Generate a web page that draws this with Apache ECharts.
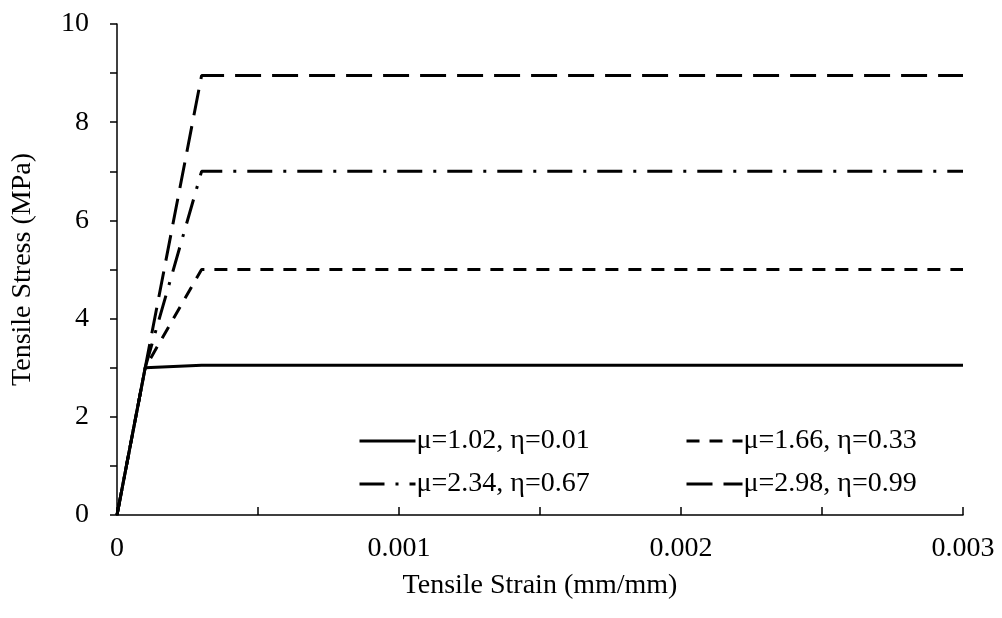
<!DOCTYPE html>
<html>
<head>
<meta charset="utf-8">
<script src="https://cdn.jsdelivr.net/npm/echarts@6/dist/echarts.min.js"></script>
<style>html,body{margin:0;padding:0;background:#fff}#c{width:1002px;height:618px}</style>
</head>
<body>
<div id="c"></div>
<script>
var strain = [0, 0.0001, 0.0003, 0.003];
var names = ['μ=1.02, η=0.01', 'μ=1.66, η=0.33', 'μ=2.34, η=0.67', 'μ=2.98, η=0.99'];
var stressA = [0, 3.0, 3.05, 3.05];
var stressB = [0, 3.0, 5.0, 5.0];
var stressC = [0, 3.0, 7.0, 7.0];
var stressD = [0, 3.0, 8.95, 8.95];
var xTicks = ['0', '0.001', '0.002', '0.003'];

function pts(ys){ return strain.map(function(x,i){ return [x, ys[i]]; }); }
var FONT = 'Liberation Serif';
var FS = 28;
var dashes = ['solid', [13, 10], [25, 11, 3, 11], [26, 11]];
var allY = [stressA, stressB, stressC, stressD];

var series = allY.map(function(ys, i){
  return {
    name: names[i], type: 'line', data: pts(ys), symbol: 'none', showSymbol: false,
    lineStyle: {color: '#000', width: 3, type: dashes[i], cap: 'butt'},
    itemStyle: {color: '#000'}, animation: false
  };
});

var legendPos = [[353, 422], [680, 422], [353, 465], [680, 465]];
var legends = names.map(function(n, i){
  return {
    data: [n], left: legendPos[i][0], top: legendPos[i][1],
    itemWidth: 56, itemHeight: 28, itemGap: 0,
    itemStyle: {opacity: 0},
    lineStyle: {width: 3, color: '#000', type: dashes[i]},
    textStyle: {fontFamily: FONT, fontSize: FS, color: '#000', padding: [0,0,0,-4]},
    selectedMode: false
  };
});

var chart = echarts.init(document.getElementById('c'), null, {renderer: 'canvas'});
chart.setOption({
  backgroundColor: '#fff',
  animation: false,
  grid: {left: 117, right: 39, top: 24, bottom: 103, containLabel: false, outerBoundsMode: 'none'},
  legend: legends,
  xAxis: {
    type: 'value', min: 0, max: 0.003, interval: 0.001,
    name: 'Tensile Strain (mm/mm)', nameLocation: 'middle', nameGap: 57,
    nameTextStyle: {fontFamily: FONT, fontSize: FS, color: '#000'},
    axisLine: {lineStyle: {color: '#000', width: 1.5}},
    axisTick: {inside: true, length: 8, lineStyle: {color: '#000', width: 1.5}},
    minorTick: {show: true, splitNumber: 2, length: 8, lineStyle: {color: '#000', width: 1.5}},
    splitLine: {show: false},
    axisLabel: {fontFamily: FONT, fontSize: FS, color: '#000', margin: 20,
      formatter: function(v){ return xTicks[Math.round(v / 0.001)]; }}
  },
  yAxis: {
    type: 'value', min: 0, max: 10, interval: 1,
    name: 'Tensile Stress (MPa)', nameLocation: 'middle', nameGap: 80,
    nameTextStyle: {fontFamily: FONT, fontSize: FS, color: '#000'},
    axisLine: {show: true, lineStyle: {color: '#000', width: 1.5}},
    axisTick: {show: true, inside: false, length: 7, lineStyle: {color: '#000', width: 1.5}},
    splitLine: {show: false},
    axisLabel: {fontFamily: FONT, fontSize: FS, color: '#000', margin: 28,
      formatter: function(v){ return (Math.round(v) % 2 === 0) ? String(Math.round(v)) : ''; }}
  },
  series: series
});
</script>
</body>
</html>
